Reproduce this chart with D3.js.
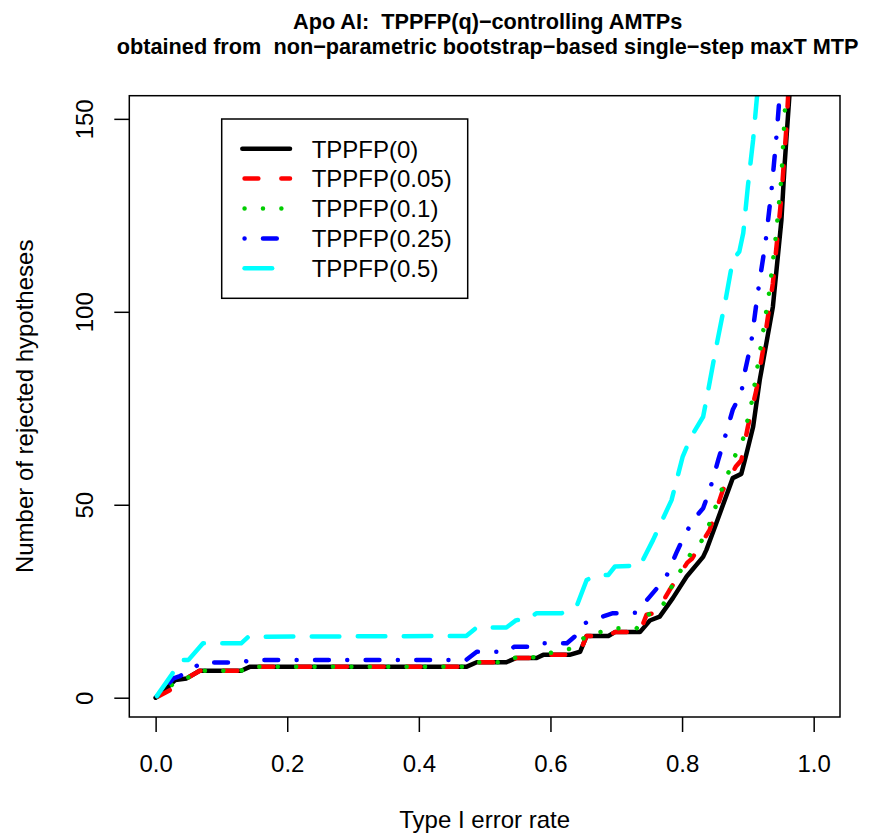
<!DOCTYPE html>
<html>
<head>
<meta charset="utf-8">
<script src="https://cdn.jsdelivr.net/npm/d3@7"></script>
<style>
  html, body { margin: 0; padding: 0; background: #fff; }
  svg text { font-family: "Liberation Sans", Arial, Helvetica, sans-serif; fill: #000; white-space: pre; }
</style>
</head>
<body>
<svg id="chart" width="880" height="835"></svg>
<script>
// ---------- data ----------
const titleLines = ["Apo AI:  TPPFP(q)\u2212controlling AMTPs",
                    "obtained from  non\u2212parametric bootstrap\u2212based single\u2212step maxT MTP"];
const xLabel = "Type I error rate";
const yLabel = "Number of rejected hypotheses";
const xTicks = [0, 0.2, 0.4, 0.6, 0.8, 1.0];
const yTicks = [0, 50, 100, 150];
const seriesNames = ["TPPFP(0)", "TPPFP(0.05)", "TPPFP(0.1)", "TPPFP(0.25)", "TPPFP(0.5)"];
const seriesColors = ["#000000", "#FF0000", "#00CD00", "#0000FF", "#00FFFF"];
const seriesLty = ["solid", "dashed", "dotted", "dotdash", "longdash"];

const tppfp0 = [[0,0],[0.022,3.3],[0.03,4.6],[0.047,5.0],[0.067,7.0],[0.13,7.0],[0.143,8.0],[0.472,8.0],
  [0.488,9.2],[0.533,9.2],[0.548,10.3],[0.579,10.3],[0.589,11.1],[0.629,11.1],[0.645,11.9],[0.655,16],
  [0.688,16],[0.698,17],[0.736,17],[0.751,20],[0.766,21],[0.786,25.8],[0.807,31.4],[0.832,36.5],
  [0.837,38.3],[0.852,45.2],[0.877,56.9],[0.89,58],[0.898,63.3],[0.908,70.2],[0.918,82.3],[0.938,101.3],
  [0.951,123.8],[0.956,138.5],[0.963,155.8],[0.966,162]];
const tppfp005 = [[0,0],[0.022,2],[0.035,4],[0.047,5.0],[0.067,7.0],[0.13,7.0],[0.143,8.0],[0.472,8.0],
  [0.488,9.2],[0.533,9.2],[0.548,10.3],[0.579,10.3],[0.589,11.1],[0.629,11.1],[0.645,11.9],[0.655,16],
  [0.688,16],[0.698,17],[0.736,17],[0.746,21.5],[0.761,22],[0.781,27.9],[0.808,35],[0.815,36],
  [0.842,43.5],[0.862,53.8],[0.882,60],[0.89,61.5],[0.9,70.2],[0.913,79.8],[0.923,90.1],[0.938,107.4],
  [0.951,129.9],[0.959,148.9],[0.963,162]];
const tppfp01 = [[0,0],[0.022,3],[0.035,4.5],[0.047,5.0],[0.067,7.0],[0.13,7.0],[0.143,8.0],[0.472,8.0],
  [0.488,9.2],[0.533,9.2],[0.548,10.5],[0.579,10.5],[0.589,11.2],[0.607,11.9],[0.634,12.8],[0.652,15.7],
  [0.665,16.5],[0.675,17],[0.695,17.5],[0.703,18],[0.731,18],[0.748,21.4],[0.771,24],[0.783,28.4],
  [0.797,32.7],[0.812,37],[0.829,40.4],[0.842,45.2],[0.861,54.3],[0.882,63.3],[0.893,67.2],[0.906,76.7],
  [0.92,91.4],[0.933,105.7],[0.943,120.4],[0.951,134.9],[0.957,154.5],[0.96,162]];
const tppfp025 = [[0,0],[0.027,5],[0.037,5.6],[0.06,8],[0.07,9.1],[0.13,9.1],[0.145,9.8],[0.472,9.8],
  [0.488,11.9],[0.533,11.9],[0.545,13.2],[0.579,13.2],[0.59,14.1],[0.625,14.1],[0.64,16.3],[0.652,19.3],
  [0.675,20.8],[0.695,21.9],[0.73,22],[0.75,26],[0.775,31],[0.791,37.4],[0.804,42.2],[0.819,46.5],
  [0.832,49.1],[0.842,53.8],[0.855,61.6],[0.864,66.8],[0.877,74.6],[0.89,78.9],[0.895,84.1],[0.905,91.9],
  [0.915,104.8],[0.927,118.2],[0.936,131.6],[0.943,144.6],[0.947,153.2],[0.95,162]];
const tppfp05 = [[0,0],[0.024,5.9],[0.039,9.8],[0.05,9.8],[0.072,14.1],[0.13,14.1],[0.141,15.8],[0.472,16],
  [0.488,18.2],[0.533,18.2],[0.548,20.1],[0.565,20.3],[0.579,21.9],[0.617,21.9],[0.64,23.8],[0.655,30.5],
  [0.67,31.8],[0.688,31.8],[0.698,34],[0.736,34.2],[0.756,40.9],[0.784,51.2],[0.801,62.5],[0.814,67.7],
  [0.832,72.8],[0.837,77.2],[0.852,91],[0.867,103.9],[0.877,113.4],[0.887,115.6],[0.893,120.4],[0.9,132.5],
  [0.908,144.6],[0.914,156],[0.916,162]];
const seriesData = [tppfp0, tppfp005, tppfp01, tppfp025, tppfp05];

// ---------- layout ----------
const plot = {left: 129.3, right: 840, top: 95.7, bottom: 717};
const lw = 4.5, u = 4.6;
const dashFor = {
  solid: null,
  dashed: [3*u, 5*u],
  dotted: [0.01, 4*u],
  dotdash: [0.01, 4*u, 3*u, 4*u],
  longdash: [6*u, 4*u]
};

const svg = d3.select("#chart");
const x = d3.scaleLinear().domain([-0.04, 1.04]).range([plot.left, plot.right]);
const y = d3.scaleLinear().domain([-5, 156]).range([plot.bottom, plot.top]);

svg.append("defs").append("clipPath").attr("id", "clip")
  .append("rect").attr("x", plot.left).attr("y", plot.top)
  .attr("width", plot.right - plot.left).attr("height", plot.bottom - plot.top);

// title
svg.append("g").selectAll("text").data(titleLines).join("text")
  .attr("x", (plot.left + plot.right) / 2 + 3)
  .attr("y", (d, i) => 29 + i * 25)
  .attr("text-anchor", "middle")
  .attr("xml:space", "preserve")
  .style("font-size", "21.7px").style("font-weight", "bold")
  .text(d => d);

// series
const line = d3.line().x(d => x(d[0])).y(d => y(d[1]));
const gLines = svg.append("g").attr("clip-path", "url(#clip)");
seriesData.forEach((data, i) => {
  const da = dashFor[seriesLty[i]];
  gLines.append("path").datum(data)
    .attr("d", line)
    .attr("fill", "none")
    .attr("stroke", seriesColors[i])
    .attr("stroke-width", lw)
    .attr("stroke-linejoin", "round")
    .attr("stroke-linecap", "round")
    .attr("stroke-dasharray", da ? da.join(",") : null)
    .attr("stroke-dashoffset", da ? -lw / 2 : null);
});

// box
svg.append("rect").attr("x", plot.left).attr("y", plot.top)
  .attr("width", plot.right - plot.left).attr("height", plot.bottom - plot.top)
  .attr("fill", "none").attr("stroke", "#000").attr("stroke-width", 1.5);

// x axis
const gx = svg.append("g").attr("transform", `translate(0,${plot.bottom})`)
  .call(d3.axisBottom(x).tickValues(xTicks).tickFormat(d3.format(".1f")).tickSize(15));
gx.select(".domain").remove();
gx.selectAll(".tick line").attr("stroke", "#000").attr("stroke-width", 1.5);
gx.selectAll(".tick text").attr("y", 54.7).attr("dy", 0)
  .style("font-size", "24px").attr("fill", "#000");

// y axis
const gy = svg.append("g").attr("transform", `translate(${plot.left},0)`)
  .call(d3.axisLeft(y).tickValues(yTicks).tickFormat(d3.format("d")).tickSize(15));
gy.select(".domain").remove();
gy.selectAll(".tick line").attr("stroke", "#000").attr("stroke-width", 1.5);
gy.selectAll(".tick text")
  .attr("transform", "rotate(-90)")
  .attr("x", 0).attr("y", -(plot.left - 93)).attr("dy", 0)
  .attr("text-anchor", "middle")
  .style("font-size", "24px").attr("fill", "#000");

// axis titles
svg.append("text").attr("x", (plot.left + plot.right) / 2).attr("y", 828)
  .attr("text-anchor", "middle").style("font-size", "24px").text(xLabel);
svg.append("text")
  .attr("transform", `translate(33,${(plot.top + plot.bottom) / 2}) rotate(-90)`)
  .attr("text-anchor", "middle").style("font-size", "24px").text(yLabel);

// legend
const leg = {left: 221.7, top: 119, right: 467.7, bottom: 298.3, row0: 148.7, step: 29.9,
             x1: 242.3, x2: 290, tx: 311.7};
const gLeg = svg.append("g");
gLeg.append("rect").attr("x", leg.left).attr("y", leg.top)
  .attr("width", leg.right - leg.left).attr("height", leg.bottom - leg.top)
  .attr("fill", "#fff").attr("stroke", "#000").attr("stroke-width", 1.5);
seriesNames.forEach((name, i) => {
  const ry = leg.row0 + i * leg.step;
  const da = dashFor[seriesLty[i]];
  gLeg.append("line").attr("x1", leg.x1).attr("x2", leg.x2).attr("y1", ry).attr("y2", ry)
    .attr("stroke", seriesColors[i]).attr("stroke-width", lw)
    .attr("stroke-linecap", "round")
    .attr("stroke-dasharray", da ? da.join(",") : null)
    .attr("stroke-dashoffset", da ? -lw / 2 : null);
  gLeg.append("text").attr("x", leg.tx).attr("y", ry + 8.8)
    .style("font-size", "24px").text(name);
});
</script>
</body>
</html>
